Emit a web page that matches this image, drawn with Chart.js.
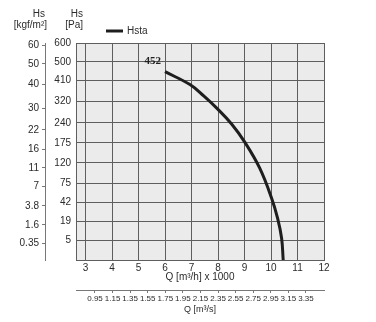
<!DOCTYPE html>
<html>
<head>
<meta charset="utf-8">
<script src="https://cdn.jsdelivr.net/npm/chart.js@4/dist/chart.umd.min.js"></script>
<style>
  html, body { margin: 0; padding: 0; background: #fff; }
  #wrap { width: 376px; height: 322px; }
</style>
</head>
<body>
<div id="wrap"><canvas id="c" width="376" height="322"></canvas></div>
<script>
// Flow axis (x 1000 m³/h) and its tick values
const flowTicks = [3, 4, 5, 6, 7, 8, 9, 10, 11, 12];
// Flow in m³/s, secondary bottom axis
const flowSecTicks = [0.95, 1.15, 1.35, 1.55, 1.75, 1.95, 2.15, 2.35, 2.55, 2.75, 2.95, 3.15, 3.35];
// Static pressure ticks, Pa and kgf/m²
const pressurePaTicks = [5, 19, 42, 75, 120, 175, 240, 320, 410, 500, 600];
const pressureKgfTicks = [0.35, 1.6, 3.8, 7, 11, 16, 22, 30, 40, 50, 60];

// Hsta curve: flow (x 1000 m³/h) vs static pressure (Pa)
const curveFlow = [6.0, 6.94, 7.46, 7.99, 8.52, 9.01, 9.57, 10.02, 10.25, 10.40, 10.46];
const curvePa   = [452, 392, 343, 290, 235, 177, 108, 49, 22, 6, 0];

const PA_PER_KGF = 9.80665;
const TEXT = '#2b2b2b';
const GRID = '#5e5e5e';
const FONT = 'Liberation Sans, Arial, sans-serif';
const NARROW = '"Liberation Sans Narrow", "Arial Narrow", "Liberation Sans", sans-serif';

// Square-root pressure scale: equal steps in sqrt(pressure)
class SqrtScale extends Chart.LinearScale {
  static id = 'sqrt';
  static defaults = Chart.LinearScale.defaults;
  getPixelForValue(value) {
    const lo = Math.sqrt(this.min), hi = Math.sqrt(this.max);
    return this.getPixelForDecimal((Math.sqrt(Math.max(value, 0)) - lo) / (hi - lo));
  }
  getValueForPixel(pixel) {
    const lo = Math.sqrt(this.min), hi = Math.sqrt(this.max);
    const s = lo + this.getDecimalForPixel(pixel) * (hi - lo);
    return s * s;
  }
}
Chart.register(SqrtScale);

const fixedTicks = (values) => (scale) => { scale.ticks = values.map(v => ({ value: v })); };

const decor = {
  id: 'decor',
  beforeDraw(chart) {
    const { ctx, chartArea: a } = chart;
    ctx.save();
    ctx.fillStyle = '#ebebeb';
    ctx.fillRect(a.left, a.top, a.right - a.left, a.bottom - a.top);
    ctx.restore();
  },
  afterDatasetsDraw(chart) {
    const { ctx } = chart;
    const p = chart.getDatasetMeta(0).data[0];
    ctx.save();
    ctx.font = 'bold 11px "Liberation Serif", "Times New Roman", serif';
    ctx.fillStyle = '#222';
    ctx.textAlign = 'right';
    ctx.textBaseline = 'middle';
    ctx.fillText(String(curvePa[0]), p.x - 4, p.y - 10);
    ctx.restore();
  },
  afterDraw(chart) {
    const { ctx } = chart;
    ctx.save();
    ctx.font = '10px ' + FONT;
    ctx.fillStyle = TEXT;
    ctx.textBaseline = 'middle';
    ctx.textAlign = 'right';
    ctx.fillText('Hs', 45, 14);
    ctx.fillText('[kgf/m²]', 47, 25);
    ctx.fillText('Hs', 83, 14);
    ctx.fillText('[Pa]', 83, 25);
    // legend
    ctx.strokeStyle = '#1e1e1e';
    ctx.lineWidth = 3;
    ctx.beginPath();
    ctx.moveTo(106, 31);
    ctx.lineTo(123, 31);
    ctx.stroke();
    ctx.textAlign = 'left';
    ctx.fillText(chart.data.datasets[0].label, 127, 31);
    ctx.restore();
  }
};

new Chart(document.getElementById('c'), {
  type: 'line',
  data: {
    datasets: [{
      label: 'Hsta',
      data: curveFlow.map((x, i) => ({ x, y: curvePa[i] })),
      borderColor: '#1e1e1e',
      borderWidth: 3,
      pointRadius: 0,
      tension: 0.4,
      xAxisID: 'x',
      yAxisID: 'y'
    }]
  },
  options: {
    responsive: false,
    devicePixelRatio: 1,
    animation: false,
    layout: { padding: { top: 43, right: 52, left: 0, bottom: 0 } },
    plugins: { legend: { display: false }, tooltip: { enabled: false } },
    scales: {
      x: {
        type: 'linear', position: 'bottom', weight: 0,
        min: 2.64, max: 12,
        afterBuildTicks: fixedTicks(flowTicks),
        afterFit: s => { s.height = 30; },
        ticks: { font: { family: FONT, size: 10 }, color: TEXT, padding: 2, maxRotation: 0, autoSkip: false },
        grid: { color: GRID, drawTicks: false },
        border: { color: GRID },
        title: { display: true, text: 'Q [m³/h] x 1000', font: { family: FONT, size: 10 }, color: TEXT, padding: { top: 0, bottom: 7 } }
      },
      x2: {
        type: 'linear', position: 'bottom', weight: 1,
        min: 0.734, max: 3.555,
        afterBuildTicks: fixedTicks(flowSecTicks),
        afterFit: s => { s.height = 32; },
        ticks: { font: { family: NARROW, size: 8 }, color: TEXT, padding: 1, maxRotation: 0, autoSkip: false,
                 callback: v => v.toFixed(2) },
        grid: { drawOnChartArea: false, tickLength: 3, color: '#777' },
        border: { color: '#777' },
        title: { display: true, text: 'Q [m³/s]', font: { family: FONT, size: 9 }, color: TEXT, padding: { top: 0, bottom: 7 } }
      },
      y: {
        type: 'sqrt', position: 'left', weight: 0,
        min: 0, max: 600,
        afterBuildTicks: fixedTicks(pressurePaTicks),
        afterFit: s => { s.width = 31; },
        ticks: { font: { family: FONT, size: 10 }, color: TEXT, padding: 5, autoSkip: false, callback: v => String(v) },
        grid: { color: GRID, drawTicks: false },
        border: { color: GRID }
      },
      y2: {
        type: 'sqrt', position: 'left', weight: 1,
        min: 0, max: 600 / PA_PER_KGF,
        afterBuildTicks: fixedTicks(pressureKgfTicks),
        afterFit: s => { s.width = 45; },
        ticks: { font: { family: FONT, size: 10 }, color: TEXT, padding: 3, autoSkip: false, callback: v => String(v) },
        grid: { drawOnChartArea: false, tickLength: 3, color: '#777' },
        border: { color: '#777' }
      }
    }
  },
  plugins: [decor]
});
</script>
</body>
</html>
